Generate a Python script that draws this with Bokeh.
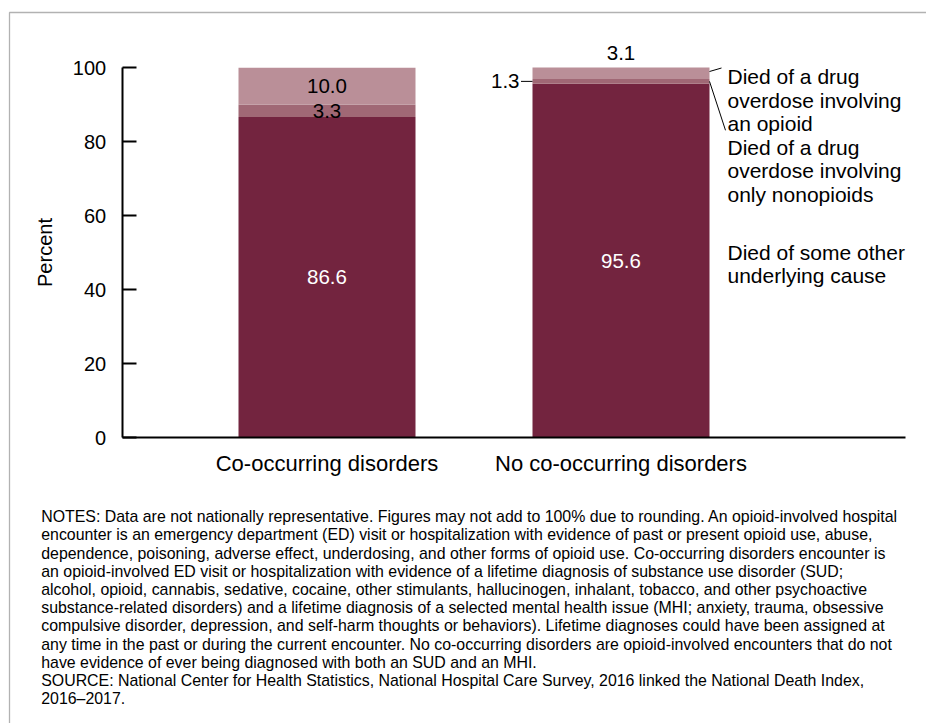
from bokeh.plotting import figure
from bokeh.models import (Range1d, Label, ColumnDataSource, Arrow, PolyAnnotation,
                          FixedTicker)
from bokeh.embed import file_html
from bokeh.resources import INLINE
import numpy as np

# ---------------- data ----------------
groups = ["Co-occurring disorders", "No co-occurring disorders"]
other_cause = [86.6, 95.6]        # Died of some other underlying cause
nonopioid_only = [3.3, 1.3]       # Died of a drug overdose involving only nonopioids
opioid = [10.0, 3.1]              # Died of a drug overdose involving an opioid
series_labels = [
    ["Died of some other", "underlying cause"],
    ["Died of a drug", "overdose involving", "only nonopioids"],
    ["Died of a drug", "overdose involving", "an opioid"],
]
y_ticks = [0, 20, 40, 60, 80, 100]
notes_lines = [
    "NOTES: Data are not nationally representative. Figures may not add to 100% due to rounding. An opioid-involved hospital",
    "encounter is an emergency department (ED) visit or hospitalization with evidence of past or present opioid use, abuse,",
    "dependence, poisoning, adverse effect, underdosing, and other forms of opioid use. Co-occurring disorders encounter is",
    "an opioid-involved ED visit or hospitalization with evidence of a lifetime diagnosis of substance use disorder (SUD;",
    "alcohol, opioid, cannabis, sedative, cocaine, other stimulants, hallucinogen, inhalant, tobacco, and other psychoactive",
    "substance-related disorders) and a lifetime diagnosis of a selected mental health issue (MHI; anxiety, trauma, obsessive",
    "compulsive disorder, depression, and self-harm thoughts or behaviors). Lifetime diagnoses could have been assigned at",
    "any time in the past or during the current encounter. No co-occurring disorders are opioid-involved encounters that do not",
    "have evidence of ever being diagnosed with both an SUD and an MHI.",
    "SOURCE: National Center for Health Statistics, National Hospital Care Survey, 2016 linked the National Death Index,",
    "2016\u20132017.",
]

# ---------------- style / layout ----------------
FONT = "Liberation Sans"
colors = ["#73243F", "#A06875", "#BA8F98"]
W, H = 926, 723
XS = 294.0   # px per x unit
YS = 3.7     # px per percent
AXIS_X_PG = 121.7   # page x of the value axis
AXIS_END_PG = 905   # page x where category axis ends
ZERO_PG = 437       # page y of 0 %
x_start = 1 - 326.5 / XS
x_end = x_start + W / XS
y_start = -(H - ZERO_PG) / YS
y_end = ZERO_PG / YS
bar_w = 177 / XS


def px_x(page_x):
    return x_start + page_x / XS


def px_y(page_y):
    return (ZERO_PG - page_y) / YS


def page_y(v):
    return ZERO_PG - v * YS


x = [1, 2]
src = ColumnDataSource(dict(x=x, other=other_cause, nonop=nonopioid_only, opioid=opioid))

p = figure(width=W, height=H, output_backend="svg", toolbar_location=None,
           x_range=Range1d(x_start, x_end), y_range=Range1d(y_start, y_end),
           min_border=0)
p.outline_line_color = None
p.grid.visible = False
p.background_fill_color = "white"
p.border_fill_color = "white"

p.vbar_stack(["other", "nonop", "opioid"], x="x", width=bar_w, source=src,
             fill_color=colors, line_color=None)

# axes (drawn at fixed locations inside the frame)
ya = p.yaxis[0]
ya.fixed_location = px_x(AXIS_X_PG)
ya.ticker = FixedTicker(ticks=y_ticks)
ya.bounds = (0, 100)
ya.major_tick_in = 14
ya.major_tick_out = 0
ya.minor_tick_in = 0
ya.minor_tick_out = 0
ya.axis_line_width = 2
ya.major_tick_line_width = 2
ya.major_label_text_font = FONT
ya.major_label_text_font_size = "20px"
ya.major_label_text_color = "black"
ya.major_label_standoff = 16
ya.axis_label = "Percent"
ya.axis_label_text_font = FONT
ya.axis_label_text_font_size = "20px"
ya.axis_label_text_font_style = "normal"
ya.axis_label_text_color = "black"
ya.axis_label_standoff = 14

xa = p.xaxis[0]
xa.fixed_location = 0
xa.bounds = (px_x(AXIS_X_PG), px_x(AXIS_END_PG))
xa.ticker = FixedTicker(ticks=x)
xa.major_label_overrides = {1: groups[0], 2: groups[1]}
xa.major_tick_in = 0
xa.major_tick_out = 0
xa.minor_tick_in = 0
xa.minor_tick_out = 0
xa.axis_line_width = 2
xa.major_label_text_font = FONT
xa.major_label_text_font_size = "22px"
xa.major_label_text_color = "black"
xa.major_label_standoff = 13

# value labels
bottoms_nonop = np.array(other_cause)
bottoms_op = bottoms_nonop + np.array(nonopioid_only)
tops = bottoms_op + np.array(opioid)


def lab(text, xx, yy, color="black", size="20.5px", align="center", baseline="middle"):
    p.add_layout(Label(x=xx, y=yy, text=text, text_color=color, text_font=FONT,
                       text_font_size=size, text_align=align, text_baseline=baseline))


# bar 1
lab(f"{other_cause[0]:.1f}", x[0], other_cause[0] / 2, color="white")
lab(f"{nonopioid_only[0]:.1f}", x[0], bottoms_nonop[0] + nonopioid_only[0] / 2)
lab(f"{opioid[0]:.1f}", x[0], bottoms_op[0] + opioid[0] / 2)
# bar 2
lab(f"{other_cause[1]:.1f}", x[1], other_cause[1] / 2, color="white")
mid_non2 = bottoms_nonop[1] + nonopioid_only[1] / 2
left2 = x[1] - bar_w / 2
right2 = x[1] + bar_w / 2
lab(f"{nonopioid_only[1]:.1f}", left2 - 13 / XS, mid_non2, align="right")
p.add_layout(Arrow(end=None, x_start=left2 - 11.5 / XS, y_start=mid_non2,
                   x_end=left2, y_end=mid_non2, line_color="black", line_width=1))
lab(f"{opioid[1]:.1f}", x[1], tops[1] + 15 / YS)

# series labels (right side)
LX = px_x(727)
top_pg = page_y(tops[1])
line_step = 23.6
stack_lines = series_labels[2] + series_labels[1]
for i, t in enumerate(stack_lines):
    lab(t, LX, px_y(top_pg + 9 + i * line_step), size="21px", align="left", baseline="alphabetic")
mid_other_pg = page_y(other_cause[1] / 2)
for i, t in enumerate(series_labels[0]):
    lab(t, LX, px_y(mid_other_pg - 8.5 + i * line_step), size="21px", align="left", baseline="alphabetic")

# leader lines
p.add_layout(Arrow(end=None, x_start=right2, y_start=px_y(top_pg + 4),
                   x_end=px_x(721), y_end=px_y(top_pg + 0.5), line_color="black", line_width=1))
p.add_layout(Arrow(end=None, x_start=right2, y_start=mid_non2,
                   x_end=px_x(725), y_end=px_y(top_pg + 9 + 3 * line_step - 17),
                   line_color="black", line_width=1))

# notes
for i, t in enumerate(notes_lines):
    lab(t, px_x(40.7), px_y(516.2 + i * 18.2), size="15.9px", align="left", baseline="alphabetic")

# outer frame (only top/left visible in window)
p.add_layout(PolyAnnotation(xs=[px_x(9), px_x(990), px_x(990), px_x(9)],
                            ys=[px_y(12), px_y(12), px_y(800), px_y(800)],
                            fill_alpha=0, line_color="black", line_width=1.3))

open("out.html", "w").write(file_html(p, INLINE))
